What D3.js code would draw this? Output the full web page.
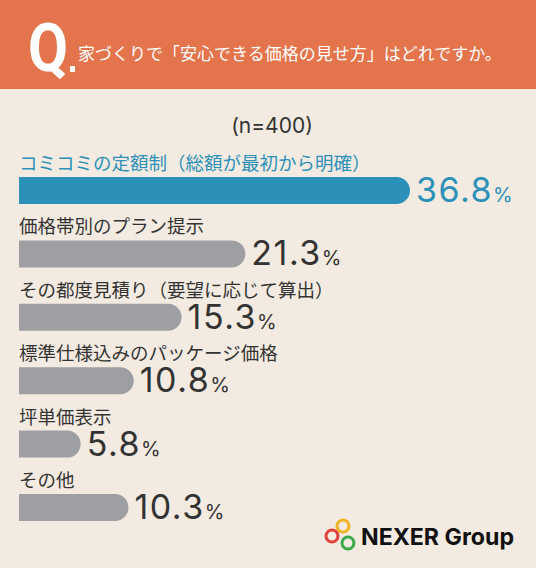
<!DOCTYPE html>
<html>
<head>
<meta charset="utf-8">
<script src="https://cdn.jsdelivr.net/npm/d3@7"></script>
<style>
  html, body { margin: 0; padding: 0; background: #f3ebe1; }
  svg { display: block; }
</style>
</head>
<body>
<svg id="chart" width="536" height="568"></svg>
<script>
// values
const categories = [
  'コミコミの定額制（総額が最初から明確）',
  '価格帯別のプラン提示',
  'その都度見積り（要望に応じて算出）',
  '標準仕様込みのパッケージ価格',
  '坪単価表示',
  'その他'
]
const values = [36.8, 21.3, 15.3, 10.8, 5.8, 10.3]
const question = '家づくりで「安心できる価格の見せ方」はどれですか。'
const sampleLabel = '(n=400)'

const W = 536, H = 568
const jp = '"Noto Sans CJK JP", "Noto Sans", sans-serif'
const num = 'Inter, "Noto Sans", sans-serif'
const blue = '#2b91b8', gray = '#9d9fa3', ink = '#333333'

const svg = d3.select('#chart')

svg.append('rect').attr('width', W).attr('height', H).attr('fill', '#f3ebe1')

// header band
svg.append('rect').attr('width', W).attr('height', 89).attr('fill', '#e4744c')
svg.append('text')
  .attr('x', 28).attr('y', 71)
  .attr('font-family', 'Roboto, "Noto Sans", sans-serif')
  .attr('font-weight', 700).attr('font-size', 66)
  .attr('textLength', 40).attr('lengthAdjust', 'spacingAndGlyphs')
  .attr('fill', '#fff')
  .text('Q')
svg.append('rect').attr('x', 70).attr('y', 66).attr('width', 5).attr('height', 6).attr('fill', '#fff')
svg.append('text')
  .attr('x', 78).attr('y', 60)
  .attr('font-family', jp).attr('font-size', 17)
  .attr('fill', '#fff')
  .text(question)

svg.append('text')
  .attr('x', 272).attr('y', 133)
  .attr('text-anchor', 'middle')
  .attr('font-family', num).attr('font-size', 21)
  .attr('fill', ink)
  .text(sampleLabel)

const x = d3.scaleLinear().domain([0, 36.8]).range([19, 410])
// row tops, one per category
const y = d3.scalePoint().domain(categories).range([177, 494])

const rows = svg.selectAll('g.row')
  .data(categories.map((c, i) => ({ c, v: values[i], i })))
  .enter().append('g').attr('class', 'row')
  .attr('transform', d => `translate(0,${y(d.c)})`)

const bh = 27
rows.append('path')
  .attr('d', d => {
    const x0 = x(0), x1 = x(d.v), r = bh / 2
    return `M${x0},0H${x1 - r}A${r},${r} 0 0 1 ${x1 - r},${bh}H${x0}Z`
  })
  .attr('fill', d => d.i === 0 ? blue : gray)

rows.append('text')
  .attr('x', 19).attr('y', -7)
  .attr('font-family', jp).attr('font-size', 18.5)
  .attr('fill', d => d.i === 0 ? blue : ink)
  .text(d => d.c)

const lbl = rows.append('text')
  .attr('x', d => x(d.v) + 6).attr('y', 25)
  .attr('font-family', num)
  .attr('fill', d => d.i === 0 ? blue : ink)
lbl.append('tspan').attr('font-size', 34).attr('letter-spacing', 1.5).text(d => d.v.toFixed(1))
lbl.append('tspan').attr('font-size', 20).text('%')

// logo
const logo = svg.append('g')
const rings = [
  { cx: 343, cy: 526, c: '#f0b323' },
  { cx: 332, cy: 536, c: '#e0413a' },
  { cx: 348, cy: 543, c: '#3daa4a' }
]
logo.selectAll('circle').data(rings).enter().append('circle')
  .attr('cx', d => d.cx).attr('cy', d => d.cy).attr('r', 6)
  .attr('fill', 'none').attr('stroke', d => d.c).attr('stroke-width', 3)
logo.append('text')
  .attr('x', 361).attr('y', 545)
  .attr('font-family', num).attr('font-weight', 700).attr('font-size', 23)
  .attr('textLength', 153).attr('lengthAdjust', 'spacingAndGlyphs')
  .attr('fill', '#111')
  .text('NEXER Group')
</script>
</body>
</html>
